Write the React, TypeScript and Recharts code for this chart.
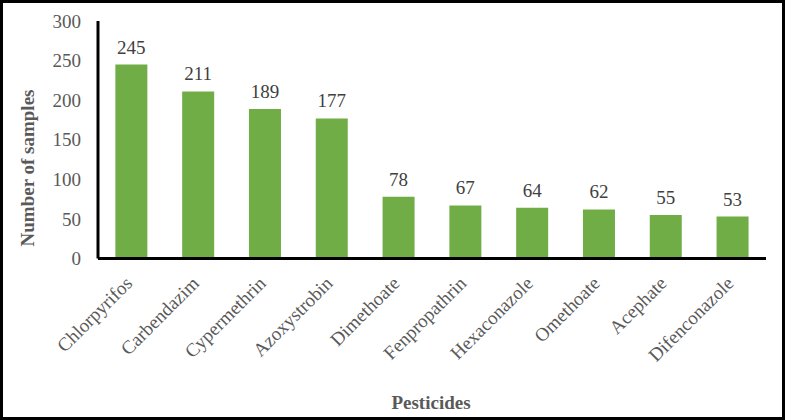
import { Bar, BarChart, LabelList, XAxis, YAxis } from "recharts";

const pesticides = [
  "Chlorpyrifos",
  "Carbendazim",
  "Cypermethrin",
  "Azoxystrobin",
  "Dimethoate",
  "Fenpropathrin",
  "Hexaconazole",
  "Omethoate",
  "Acephate",
  "Difenconazole",
];
const sampleCounts = [245, 211, 189, 177, 78, 67, 64, 62, 55, 53];
const yTicks = [0, 50, 100, 150, 200, 250, 300];

const FONT = '"Liberation Serif", "Times New Roman", serif';
const GREY = "#595959";

const chartData = pesticides.map((name, i) => ({ name, samples: sampleCounts[i] }));

function CategoryTick({ x, y, payload }: any) {
  const tx = x + 2;
  const ty = y + 18;
  return (
    <text
      x={tx}
      y={ty}
      transform={`rotate(-45 ${tx} ${ty})`}
      textAnchor="end"
      fill={GREY}
      fontSize={19}
      fontFamily={FONT}
    >
      {payload.value}
    </text>
  );
}

export default function App() {
  return (
    <div
      style={{
        position: "absolute",
        left: 0,
        top: 0,
        width: 786,
        height: 420,
        background: "#fff",
        fontFamily: FONT,
      }}
    >
      <div
        style={{
          position: "absolute",
          left: 0,
          top: 0,
          width: 785,
          height: 420,
          border: "3px solid #000",
          boxSizing: "border-box",
          pointerEvents: "none",
          zIndex: 2,
        }}
      />
      <BarChart
        width={786}
        height={420}
        data={chartData}
        margin={{ top: 21, right: 20, left: 0, bottom: 0 }}
        barCategoryGap="26%"
        style={{ fontFamily: FONT }}
      >
        <XAxis
          dataKey="name"
          interval={0}
          height={161.5}
          tickLine={false}
          axisLine={{ stroke: "#000", strokeWidth: 3 }}
          tick={<CategoryTick />}
          label={{
            content: () => (
              <text
                x={431}
                y={409}
                textAnchor="middle"
                fill={GREY}
                fontSize={19}
                fontWeight="bold"
                fontFamily={FONT}
              >
                Pesticides
              </text>
            ),
          }}
        />
        <YAxis
          width={98}
          domain={[0, 300]}
          ticks={yTicks}
          tickLine={false}
          tickSize={0}
          tickMargin={17}
          axisLine={{ stroke: "#000", strokeWidth: 3 }}
          tick={{ fill: GREY, fontSize: 19, fontFamily: FONT }}
          label={{
            content: () => (
              <text
                x={27}
                y={168}
                transform="rotate(-90 27 168)"
                textAnchor="middle"
                dominantBaseline="central"
                fill={GREY}
                fontSize={19}
                fontWeight="bold"
                fontFamily={FONT}
              >
                Number of samples
              </text>
            ),
          }}
        />
        <Bar dataKey="samples" fill="#70AD47" isAnimationActive={false}>
          <LabelList
            dataKey="samples"
            position="top"
            offset={11}
            fill="#404040"
            fontSize={19}
            fontFamily={FONT}
            style={{ fontFamily: FONT }}
          />
        </Bar>
      </BarChart>
    </div>
  );
}
